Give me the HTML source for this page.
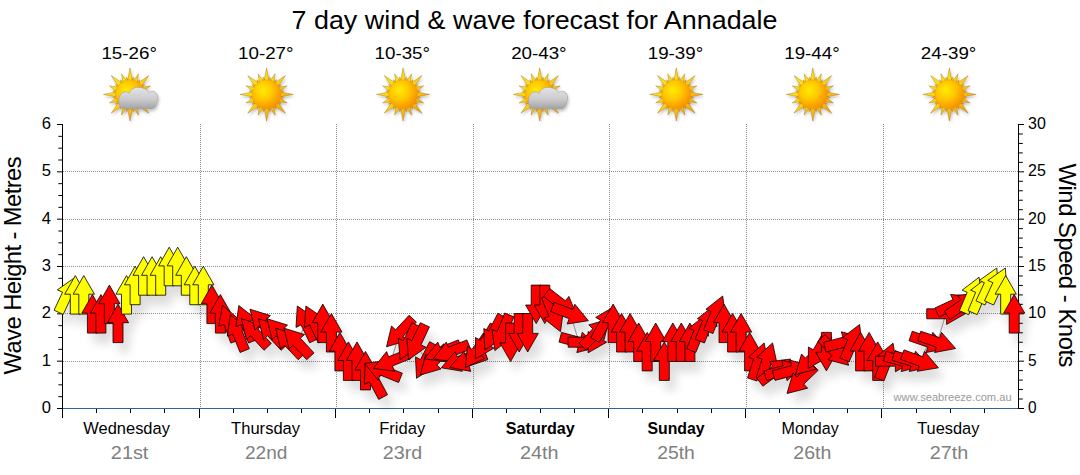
<!DOCTYPE html>
<html><head><meta charset="utf-8"><title>7 day wind &amp; wave forecast for Annadale</title>
<style>
html,body{margin:0;padding:0;background:#fff;}
body{width:1080px;height:475px;overflow:hidden;font-family:"Liberation Sans",sans-serif;}
svg{display:block;font-family:"Liberation Sans",sans-serif;}
</style></head><body>
<svg width="1080" height="475" viewBox="0 0 1080 475">
<defs>
<filter id="sh" x="-5%" y="-20%" width="110%" height="150%"><feGaussianBlur in="SourceAlpha" stdDeviation="5"/><feOffset dx="5.5" dy="9.5"/><feComponentTransfer><feFuncA type="linear" slope="0.135"/></feComponentTransfer><feMerge><feMergeNode/><feMergeNode in="SourceGraphic"/></feMerge></filter>
<filter id="ish" x="-30%" y="-30%" width="160%" height="160%"><feGaussianBlur in="SourceAlpha" stdDeviation="1.5"/><feOffset dx="1" dy="2"/><feComponentTransfer><feFuncA type="linear" slope="0.25"/></feComponentTransfer><feMerge><feMergeNode/><feMergeNode in="SourceGraphic"/></feMerge></filter>
<radialGradient id="sung" cx="0.38" cy="0.36" r="0.72"><stop offset="0" stop-color="#ffec00"/><stop offset="0.45" stop-color="#ffc600"/><stop offset="1" stop-color="#f58600"/></radialGradient>
<linearGradient id="rayg" gradientUnits="userSpaceOnUse" x1="-20" y1="-20" x2="20" y2="20"><stop offset="0" stop-color="#ffe818"/><stop offset="0.5" stop-color="#ffcc14"/><stop offset="1" stop-color="#f5a010"/></linearGradient>
<linearGradient id="cldg" x1="0" y1="0" x2="0" y2="1"><stop offset="0" stop-color="#e4e4e8"/><stop offset="0.55" stop-color="#cbcbce"/><stop offset="1" stop-color="#a2a2a2"/></linearGradient>
<g id="sun">
  <g fill="url(#rayg)" stroke="#8a6200" stroke-opacity="0.7" stroke-width="0.5"><path d="M-2.70,-12.50 L0.00,-26.60 L2.70,-12.50Z M0.87,-12.57 L3.43,-17.26 L4.01,-11.95Z M2.57,-12.47 L8.53,-20.60 L7.00,-10.63Z M5.61,-11.28 L9.78,-14.63 L8.27,-9.50Z M6.93,-10.75 L18.81,-18.81 L10.75,-6.93Z M9.50,-8.27 L14.63,-9.78 L11.28,-5.61Z M10.63,-7.00 L20.60,-8.53 L12.47,-2.57Z M11.95,-4.01 L17.26,-3.43 L12.57,-0.87Z M12.50,-2.70 L26.60,-0.00 L12.50,2.70Z M12.57,0.87 L17.26,3.43 L11.95,4.01Z M12.47,2.57 L20.60,8.53 L10.63,7.00Z M11.28,5.61 L14.63,9.78 L9.50,8.27Z M10.75,6.93 L18.81,18.81 L6.93,10.75Z M8.27,9.50 L9.78,14.63 L5.61,11.28Z M7.00,10.63 L8.53,20.60 L2.57,12.47Z M4.01,11.95 L3.43,17.26 L0.87,12.57Z M2.70,12.50 L0.00,26.60 L-2.70,12.50Z M-0.87,12.57 L-3.43,17.26 L-4.01,11.95Z M-2.57,12.47 L-8.53,20.60 L-7.00,10.63Z M-5.61,11.28 L-9.78,14.63 L-8.27,9.50Z M-6.93,10.75 L-18.81,18.81 L-10.75,6.93Z M-9.50,8.27 L-14.63,9.78 L-11.28,5.61Z M-10.63,7.00 L-20.60,8.53 L-12.47,2.57Z M-11.95,4.01 L-17.26,3.43 L-12.57,0.87Z M-12.50,2.70 L-26.60,0.00 L-12.50,-2.70Z M-12.57,-0.87 L-17.26,-3.43 L-11.95,-4.01Z M-12.47,-2.57 L-20.60,-8.53 L-10.63,-7.00Z M-11.28,-5.61 L-14.63,-9.78 L-9.50,-8.27Z M-10.75,-6.93 L-18.81,-18.81 L-6.93,-10.75Z M-8.27,-9.50 L-9.78,-14.63 L-5.61,-11.28Z M-7.00,-10.63 L-8.53,-20.60 L-2.57,-12.47Z M-4.01,-11.95 L-3.43,-17.26 L-0.87,-12.57Z"/></g>
  <circle r="14.6" fill="url(#sung)" stroke="#eea010" stroke-width="0.5"/>
</g>
<g id="cloud">
  <path d="M-4.8,14.6 C-8.5,14.6 -11.3,12 -11.2,7.6 C-11.3,5 -11,3 -10,1.5 C-9,-2.2 -3.5,-4.2 -0.8,-1 C1,-5.5 4.5,-7.1 7.8,-7 C12.5,-7.1 16.5,-5.6 18.9,-1.9 C21,-4 25.5,-3.6 26.8,-0.5 C28.3,1.5 28.4,5.5 26.9,8.5 C26.6,11.5 24.5,14.1 21.5,14.6 Z" fill="url(#cldg)" stroke="#a0a0a0" stroke-width="0.6"/>
</g>
</defs>
<rect width="1080" height="475" fill="#fff"/>
<text x="534.5" y="29.4" font-size="26.5" text-anchor="middle" textLength="486" lengthAdjust="spacingAndGlyphs" fill="#000">7 day wind &amp; wave forecast for Annadale</text>
<text x="129.2" y="59.0" font-size="16.5" text-anchor="middle" textLength="55.5" lengthAdjust="spacingAndGlyphs" fill="#000">15-26°</text>
<g filter="url(#ish)" transform="translate(130.0,94.4)"><use href="#sun"/><use href="#cloud"/></g>
<text x="265.8" y="59.0" font-size="16.5" text-anchor="middle" textLength="55.5" lengthAdjust="spacingAndGlyphs" fill="#000">10-27°</text>
<g filter="url(#ish)" transform="translate(266.6,94.4)"><use href="#sun"/></g>
<text x="402.3" y="59.0" font-size="16.5" text-anchor="middle" textLength="55.5" lengthAdjust="spacingAndGlyphs" fill="#000">10-35°</text>
<g filter="url(#ish)" transform="translate(403.1,94.4)"><use href="#sun"/></g>
<text x="538.9" y="59.0" font-size="16.5" text-anchor="middle" textLength="55.5" lengthAdjust="spacingAndGlyphs" fill="#000">20-43°</text>
<g filter="url(#ish)" transform="translate(539.7,94.4)"><use href="#sun"/><use href="#cloud"/></g>
<text x="675.5" y="59.0" font-size="16.5" text-anchor="middle" textLength="55.5" lengthAdjust="spacingAndGlyphs" fill="#000">19-39°</text>
<g filter="url(#ish)" transform="translate(676.3,94.4)"><use href="#sun"/></g>
<text x="812.0" y="59.0" font-size="16.5" text-anchor="middle" textLength="55.5" lengthAdjust="spacingAndGlyphs" fill="#000">19-44°</text>
<g filter="url(#ish)" transform="translate(812.8,94.4)"><use href="#sun"/></g>
<text x="948.6" y="59.0" font-size="16.5" text-anchor="middle" textLength="55.5" lengthAdjust="spacingAndGlyphs" fill="#000">24-39°</text>
<g filter="url(#ish)" transform="translate(949.4,94.4)"><use href="#sun"/></g>
<g stroke="#8c8c8c" stroke-width="1" stroke-dasharray="1,1" shape-rendering="crispEdges"><line x1="63" y1="361.5" x2="1018" y2="361.5"/><line x1="63" y1="313.5" x2="1018" y2="313.5"/><line x1="63" y1="266.5" x2="1018" y2="266.5"/><line x1="63" y1="219.5" x2="1018" y2="219.5"/><line x1="63" y1="171.5" x2="1018" y2="171.5"/><line x1="200.5" y1="124" x2="200.5" y2="408"/><line x1="336.5" y1="124" x2="336.5" y2="408"/><line x1="473.5" y1="124" x2="473.5" y2="408"/><line x1="609.5" y1="124" x2="609.5" y2="408"/><line x1="746.5" y1="124" x2="746.5" y2="408"/><line x1="883.5" y1="124" x2="883.5" y2="408"/></g>
<g stroke="#000" stroke-width="1" shape-rendering="crispEdges"><line x1="62.5" y1="124" x2="62.5" y2="418"/><line x1="1018.5" y1="124" x2="1018.5" y2="409"/></g>
<g stroke="#000" stroke-width="1"><line x1="57.00" y1="408.50" x2="62" y2="408.50"/><line x1="58.40" y1="396.67" x2="62" y2="396.67"/><line x1="58.40" y1="384.83" x2="62" y2="384.83"/><line x1="58.40" y1="373.00" x2="62" y2="373.00"/><line x1="57.00" y1="361.17" x2="62" y2="361.17"/><line x1="58.40" y1="349.33" x2="62" y2="349.33"/><line x1="58.40" y1="337.50" x2="62" y2="337.50"/><line x1="58.40" y1="325.67" x2="62" y2="325.67"/><line x1="57.00" y1="313.83" x2="62" y2="313.83"/><line x1="58.40" y1="302.00" x2="62" y2="302.00"/><line x1="58.40" y1="290.17" x2="62" y2="290.17"/><line x1="58.40" y1="278.33" x2="62" y2="278.33"/><line x1="57.00" y1="266.50" x2="62" y2="266.50"/><line x1="58.40" y1="254.67" x2="62" y2="254.67"/><line x1="58.40" y1="242.83" x2="62" y2="242.83"/><line x1="58.40" y1="231.00" x2="62" y2="231.00"/><line x1="57.00" y1="219.17" x2="62" y2="219.17"/><line x1="58.40" y1="207.33" x2="62" y2="207.33"/><line x1="58.40" y1="195.50" x2="62" y2="195.50"/><line x1="58.40" y1="183.67" x2="62" y2="183.67"/><line x1="57.00" y1="171.83" x2="62" y2="171.83"/><line x1="58.40" y1="160.00" x2="62" y2="160.00"/><line x1="58.40" y1="148.17" x2="62" y2="148.17"/><line x1="58.40" y1="136.33" x2="62" y2="136.33"/><line x1="57.00" y1="124.50" x2="62" y2="124.50"/><line x1="1019" y1="408.50" x2="1024.00" y2="408.50"/><line x1="1019" y1="399.03" x2="1022.80" y2="399.03"/><line x1="1019" y1="389.57" x2="1022.80" y2="389.57"/><line x1="1019" y1="380.10" x2="1022.80" y2="380.10"/><line x1="1019" y1="370.63" x2="1022.80" y2="370.63"/><line x1="1019" y1="361.17" x2="1024.00" y2="361.17"/><line x1="1019" y1="351.70" x2="1022.80" y2="351.70"/><line x1="1019" y1="342.23" x2="1022.80" y2="342.23"/><line x1="1019" y1="332.77" x2="1022.80" y2="332.77"/><line x1="1019" y1="323.30" x2="1022.80" y2="323.30"/><line x1="1019" y1="313.83" x2="1024.00" y2="313.83"/><line x1="1019" y1="304.37" x2="1022.80" y2="304.37"/><line x1="1019" y1="294.90" x2="1022.80" y2="294.90"/><line x1="1019" y1="285.43" x2="1022.80" y2="285.43"/><line x1="1019" y1="275.97" x2="1022.80" y2="275.97"/><line x1="1019" y1="266.50" x2="1024.00" y2="266.50"/><line x1="1019" y1="257.03" x2="1022.80" y2="257.03"/><line x1="1019" y1="247.57" x2="1022.80" y2="247.57"/><line x1="1019" y1="238.10" x2="1022.80" y2="238.10"/><line x1="1019" y1="228.63" x2="1022.80" y2="228.63"/><line x1="1019" y1="219.17" x2="1024.00" y2="219.17"/><line x1="1019" y1="209.70" x2="1022.80" y2="209.70"/><line x1="1019" y1="200.23" x2="1022.80" y2="200.23"/><line x1="1019" y1="190.77" x2="1022.80" y2="190.77"/><line x1="1019" y1="181.30" x2="1022.80" y2="181.30"/><line x1="1019" y1="171.83" x2="1024.00" y2="171.83"/><line x1="1019" y1="162.37" x2="1022.80" y2="162.37"/><line x1="1019" y1="152.90" x2="1022.80" y2="152.90"/><line x1="1019" y1="143.43" x2="1022.80" y2="143.43"/><line x1="1019" y1="133.97" x2="1022.80" y2="133.97"/><line x1="1019" y1="124.50" x2="1024.00" y2="124.50"/></g>
<g stroke="#000" stroke-width="1" shape-rendering="crispEdges"><line x1="96.5" y1="409" x2="96.5" y2="413"/><line x1="130.5" y1="409" x2="130.5" y2="413"/><line x1="164.5" y1="409" x2="164.5" y2="413"/><line x1="199.5" y1="409" x2="199.5" y2="418"/><line x1="233.5" y1="409" x2="233.5" y2="413"/><line x1="267.5" y1="409" x2="267.5" y2="413"/><line x1="301.5" y1="409" x2="301.5" y2="413"/><line x1="335.5" y1="409" x2="335.5" y2="418"/><line x1="369.5" y1="409" x2="369.5" y2="413"/><line x1="403.5" y1="409" x2="403.5" y2="413"/><line x1="438.5" y1="409" x2="438.5" y2="413"/><line x1="472.5" y1="409" x2="472.5" y2="418"/><line x1="506.5" y1="409" x2="506.5" y2="413"/><line x1="540.5" y1="409" x2="540.5" y2="413"/><line x1="574.5" y1="409" x2="574.5" y2="413"/><line x1="608.5" y1="409" x2="608.5" y2="418"/><line x1="642.5" y1="409" x2="642.5" y2="413"/><line x1="677.5" y1="409" x2="677.5" y2="413"/><line x1="711.5" y1="409" x2="711.5" y2="413"/><line x1="745.5" y1="409" x2="745.5" y2="418"/><line x1="779.5" y1="409" x2="779.5" y2="413"/><line x1="813.5" y1="409" x2="813.5" y2="413"/><line x1="847.5" y1="409" x2="847.5" y2="413"/><line x1="881.5" y1="409" x2="881.5" y2="418"/><line x1="916.5" y1="409" x2="916.5" y2="413"/><line x1="950.5" y1="409" x2="950.5" y2="413"/><line x1="984.5" y1="409" x2="984.5" y2="413"/></g>
<line x1="63" y1="408.5" x2="1018" y2="408.5" stroke="#2f6496" stroke-width="1" shape-rendering="crispEdges"/>
<g filter="url(#sh)"><polyline points="66.8,294.9 75.3,294.9 83.8,294.9 92.4,313.8 100.9,313.8 109.4,304.4 118.0,323.3 126.5,294.9 135.1,285.4 143.6,276.0 152.1,276.0 160.7,276.0 169.2,266.5 177.7,266.5 186.3,276.0 194.8,285.4 203.3,285.4 211.9,304.4 220.4,313.8 228.9,323.3 237.5,332.8 246.0,323.3 254.6,332.8 263.1,323.3 271.6,332.8 280.2,332.8 288.7,342.2 297.2,342.2 305.8,323.3 314.3,323.3 322.8,323.3 331.4,332.8 339.9,351.7 348.4,361.2 357.0,361.2 365.5,370.6 374.1,380.1 382.6,370.6 391.1,361.2 399.7,332.8 408.2,342.2 416.7,342.2 425.3,361.2 433.8,361.2 442.3,351.7 450.9,351.7 459.4,361.2 467.9,361.2 476.5,351.7 485.0,342.2 493.6,332.8 502.1,332.8 510.6,342.2 519.2,332.8 527.7,332.8 536.2,304.4 544.8,304.4 553.3,313.8 561.8,304.4 570.4,313.8 578.9,342.2 587.4,342.2 596.0,332.8 604.5,323.3 613.1,323.3 621.6,332.8 630.1,332.8 638.7,342.2 647.2,351.7 655.7,342.2 664.3,361.2 672.8,342.2 681.3,342.2 689.9,342.2 698.4,332.8 706.9,323.3 715.5,313.8 724.0,323.3 732.6,332.8 741.1,332.8 749.6,351.7 758.2,361.2 766.7,361.2 775.2,370.6 783.8,370.6 792.3,370.6 800.8,380.1 809.4,361.2 817.9,351.7 826.4,351.7 835.0,351.7 843.5,342.2 852.1,342.2 860.6,351.7 869.1,351.7 877.7,361.2 886.2,361.2 894.7,361.2 903.3,361.2 911.8,361.2 920.3,361.2 928.9,342.2 937.4,342.2 945.9,313.8 954.5,304.4 963.0,304.4 971.6,294.9 980.1,294.9 988.6,285.4 997.2,285.4 1005.7,294.9 1014.2,313.8" fill="none" stroke="#9a9a9a" stroke-width="1.2"/><g stroke="#000" stroke-width="0.8" stroke-linejoin="miter"><polygon points="74.9,277.5 76.6,298.8 71.6,296.4 63.2,314.5 54.1,310.2 62.5,292.2 57.4,289.8" fill="#ffff00"/><polygon points="75.3,275.6 85.9,294.2 80.3,294.2 80.3,314.1 70.3,314.1 70.3,294.2 64.7,294.2" fill="#ffff00"/><polygon points="83.8,275.6 94.4,294.2 88.8,294.2 88.8,314.1 78.8,314.1 78.8,294.2 73.2,294.2" fill="#ffff00"/><polygon points="92.4,294.6 103.0,313.2 97.4,313.2 97.4,333.1 87.4,333.1 87.4,313.2 81.8,313.2" fill="#ff0000"/><polygon points="100.9,294.6 111.5,313.2 105.9,313.2 105.9,333.1 95.9,333.1 95.9,313.2 90.3,313.2" fill="#ff0000"/><polygon points="109.4,285.1 120.0,303.7 114.4,303.7 114.4,323.6 104.4,323.6 104.4,303.7 98.8,303.7" fill="#ff0000"/><polygon points="118.0,304.1 128.6,322.7 123.0,322.7 123.0,342.6 113.0,342.6 113.0,322.7 107.4,322.7" fill="#ff0000"/><polygon points="126.5,275.6 137.1,294.2 131.5,294.2 131.5,314.1 121.5,314.1 121.5,294.2 115.9,294.2" fill="#ffff00"/><polygon points="135.1,266.2 145.7,284.8 140.1,284.8 140.1,304.7 130.1,304.7 130.1,284.8 124.5,284.8" fill="#ffff00"/><polygon points="143.6,256.7 154.2,275.3 148.6,275.3 148.6,295.2 138.6,295.2 138.6,275.3 133.0,275.3" fill="#ffff00"/><polygon points="152.1,256.7 162.7,275.3 157.1,275.3 157.1,295.2 147.1,295.2 147.1,275.3 141.5,275.3" fill="#ffff00"/><polygon points="160.7,256.7 171.3,275.3 165.7,275.3 165.7,295.2 155.7,295.2 155.7,275.3 150.1,275.3" fill="#ffff00"/><polygon points="169.2,247.2 179.8,265.9 174.2,265.9 174.2,285.8 164.2,285.8 164.2,265.9 158.6,265.9" fill="#ffff00"/><polygon points="177.7,247.2 188.3,265.9 182.7,265.9 182.7,285.8 172.7,285.8 172.7,265.9 167.1,265.9" fill="#ffff00"/><polygon points="186.3,256.7 196.9,275.3 191.3,275.3 191.3,295.2 181.3,295.2 181.3,275.3 175.7,275.3" fill="#ffff00"/><polygon points="194.8,266.2 205.4,284.8 199.8,284.8 199.8,304.7 189.8,304.7 189.8,284.8 184.2,284.8" fill="#ffff00"/><polygon points="203.3,266.2 213.9,284.8 208.3,284.8 208.3,304.7 198.3,304.7 198.3,284.8 192.7,284.8" fill="#ffff00"/><polygon points="211.9,285.1 222.5,303.7 216.9,303.7 216.9,323.6 206.9,323.6 206.9,303.7 201.3,303.7" fill="#ff0000"/><polygon points="220.4,294.6 231.0,313.2 225.4,313.2 225.4,333.1 215.4,333.1 215.4,313.2 209.8,313.2" fill="#ff0000"/><polygon points="222.4,305.2 238.7,319.1 233.4,321.0 240.2,339.7 230.8,343.1 224.0,324.4 218.8,326.3" fill="#ff0000"/><polygon points="230.3,314.9 247.1,328.2 241.9,330.3 249.3,348.7 240.1,352.5 232.6,334.0 227.4,336.1" fill="#ff0000"/><polygon points="238.8,305.5 255.6,318.7 250.4,320.8 257.9,339.3 248.6,343.0 241.1,324.6 235.9,326.7" fill="#ff0000"/><polygon points="241.4,318.7 261.9,325.1 257.8,328.9 271.3,343.4 264.0,350.3 250.5,335.7 246.4,339.5" fill="#ff0000"/><polygon points="250.0,309.2 270.4,315.6 266.3,319.4 279.9,334.0 272.6,340.8 259.0,326.2 254.9,330.1" fill="#ff0000"/><polygon points="258.5,318.7 278.9,325.1 274.8,328.9 288.4,343.4 281.1,350.3 267.5,335.7 263.4,339.5" fill="#ff0000"/><polygon points="267.0,318.7 287.5,325.1 283.4,328.9 296.9,343.4 289.6,350.3 276.1,335.7 272.0,339.5" fill="#ff0000"/><polygon points="275.6,328.2 296.0,334.5 291.9,338.3 305.5,352.9 298.2,359.7 284.6,345.2 280.5,349.0" fill="#ff0000"/><polygon points="284.1,328.2 304.5,334.5 300.4,338.3 314.0,352.9 306.7,359.7 293.1,345.2 289.0,349.0" fill="#ff0000"/><polygon points="297.3,306.0 315.0,318.1 310.0,320.5 318.7,338.4 309.7,342.8 301.0,324.9 296.0,327.4" fill="#ff0000"/><polygon points="305.9,306.0 323.5,318.1 318.5,320.5 327.2,338.4 318.2,342.8 309.5,324.9 304.5,327.4" fill="#ff0000"/><polygon points="322.8,304.1 333.4,322.7 327.8,322.7 327.8,342.6 317.8,342.6 317.8,322.7 312.2,322.7" fill="#ff0000"/><polygon points="331.4,313.5 342.0,332.1 336.4,332.1 336.4,352.0 326.4,352.0 326.4,332.1 320.8,332.1" fill="#ff0000"/><polygon points="339.9,332.4 350.5,351.1 344.9,351.1 344.9,370.9 334.9,370.9 334.9,351.1 329.3,351.1" fill="#ff0000"/><polygon points="348.4,341.9 359.0,360.5 353.4,360.5 353.4,380.4 343.4,380.4 343.4,360.5 337.8,360.5" fill="#ff0000"/><polygon points="357.0,341.9 367.6,360.5 362.0,360.5 362.0,380.4 352.0,380.4 352.0,360.5 346.4,360.5" fill="#ff0000"/><polygon points="365.5,351.4 376.1,370.0 370.5,370.0 370.5,389.9 360.5,389.9 360.5,370.0 354.9,370.0" fill="#ff0000"/><polygon points="365.0,363.1 383.1,374.5 378.2,377.2 387.5,394.7 378.7,399.4 369.3,381.9 364.4,384.5" fill="#ff0000"/><polygon points="364.7,363.4 386.0,360.6 383.9,365.8 402.3,373.2 398.6,382.5 380.1,375.0 378.0,380.2" fill="#ff0000"/><polygon points="373.3,368.4 386.6,351.6 388.6,356.8 407.1,349.3 410.8,358.6 392.4,366.0 394.5,371.2" fill="#ff0000"/><polygon points="386.5,346.8 391.5,326.0 395.6,329.8 409.1,315.3 416.4,322.1 402.9,336.7 407.0,340.5" fill="#ff0000"/><polygon points="400.1,359.7 398.3,338.3 403.4,340.7 411.8,322.7 420.9,326.9 412.5,344.9 417.5,347.3" fill="#ff0000"/><polygon points="408.6,359.7 406.9,338.3 411.9,340.7 420.3,322.7 429.4,326.9 421.0,344.9 426.1,347.3" fill="#ff0000"/><polygon points="416.5,378.3 415.5,356.9 420.5,359.5 429.6,341.7 438.5,346.3 429.4,364.0 434.4,366.6" fill="#ff0000"/><polygon points="420.4,375.0 425.7,354.3 429.8,358.2 443.6,343.8 450.8,350.8 436.9,365.1 441.0,369.0" fill="#ff0000"/><polygon points="424.5,358.9 437.8,342.1 439.9,347.3 458.3,339.9 462.1,349.1 443.6,356.6 445.7,361.8" fill="#ff0000"/><polygon points="433.0,358.9 446.3,342.1 448.4,347.3 466.9,339.9 470.6,349.1 452.1,356.6 454.2,361.8" fill="#ff0000"/><polygon points="441.3,367.8 455.2,351.4 457.1,356.7 475.8,349.9 479.2,359.3 460.5,366.1 462.4,371.3" fill="#ff0000"/><polygon points="449.7,367.4 463.9,351.4 465.7,356.7 484.5,350.2 487.8,359.6 469.0,366.1 470.8,371.4" fill="#ff0000"/><polygon points="465.4,367.5 467.4,346.2 472.0,349.4 483.4,333.1 491.6,338.8 480.2,355.1 484.8,358.3" fill="#ff0000"/><polygon points="475.4,358.9 475.5,337.5 480.4,340.3 490.3,323.1 499.0,328.1 489.0,345.3 493.9,348.1" fill="#ff0000"/><polygon points="484.8,349.9 483.8,328.5 488.8,331.1 497.8,313.3 506.7,317.9 497.7,335.6 502.7,338.2" fill="#ff0000"/><polygon points="494.9,350.6 492.0,329.4 497.2,331.5 504.7,313.0 513.9,316.8 506.5,335.2 511.7,337.3" fill="#ff0000"/><polygon points="510.6,361.5 500.0,342.9 505.6,342.9 505.6,323.0 515.6,323.0 515.6,342.9 521.2,342.9" fill="#ff0000"/><polygon points="519.2,352.0 508.6,333.4 514.2,333.4 514.2,313.5 524.2,313.5 524.2,333.4 529.8,333.4" fill="#ff0000"/><polygon points="527.7,352.0 517.1,333.4 522.7,333.4 522.7,313.5 532.7,313.5 532.7,333.4 538.3,333.4" fill="#ff0000"/><polygon points="536.2,323.6 525.6,305.0 531.2,305.0 531.2,285.1 541.2,285.1 541.2,305.0 546.8,305.0" fill="#ff0000"/><polygon points="544.8,323.6 534.2,305.0 539.8,305.0 539.8,285.1 549.8,285.1 549.8,305.0 555.4,305.0" fill="#ff0000"/><polygon points="560.5,331.7 543.7,318.4 548.9,316.3 541.5,297.9 550.7,294.1 558.2,312.6 563.4,310.5" fill="#ff0000"/><polygon points="577.0,316.2 555.8,313.1 559.3,308.7 543.6,296.5 549.7,288.6 565.4,300.8 568.9,296.4" fill="#ff0000"/><polygon points="588.3,320.7 567.2,324.0 569.2,318.7 550.6,311.6 554.2,302.3 572.8,309.4 574.8,304.2" fill="#ff0000"/><polygon points="597.5,347.2 576.8,352.6 578.2,347.2 559.0,342.1 561.6,332.4 580.8,337.6 582.3,332.2" fill="#ff0000"/><polygon points="606.7,342.2 588.1,352.8 588.1,347.2 568.2,347.2 568.2,337.2 588.1,337.2 588.1,331.6" fill="#ff0000"/><polygon points="609.4,318.9 604.1,339.7 600.0,335.8 586.2,350.1 579.0,343.1 592.8,328.8 588.8,324.9" fill="#ff0000"/><polygon points="614.1,306.6 614.0,328.0 609.2,325.2 599.2,342.5 590.6,337.5 600.5,320.2 595.7,317.4" fill="#ff0000"/><polygon points="613.1,304.1 623.7,322.7 618.1,322.7 618.1,342.6 608.1,342.6 608.1,322.7 602.5,322.7" fill="#ff0000"/><polygon points="621.6,313.5 632.2,332.1 626.6,332.1 626.6,352.0 616.6,352.0 616.6,332.1 611.0,332.1" fill="#ff0000"/><polygon points="630.1,313.5 640.7,332.1 635.1,332.1 635.1,352.0 625.1,352.0 625.1,332.1 619.5,332.1" fill="#ff0000"/><polygon points="638.7,323.0 649.3,341.6 643.7,341.6 643.7,361.5 633.7,361.5 633.7,341.6 628.1,341.6" fill="#ff0000"/><polygon points="647.2,332.4 657.8,351.1 652.2,351.1 652.2,370.9 642.2,370.9 642.2,351.1 636.6,351.1" fill="#ff0000"/><polygon points="655.7,323.0 666.3,341.6 660.7,341.6 660.7,361.5 650.7,361.5 650.7,341.6 645.1,341.6" fill="#ff0000"/><polygon points="664.3,341.9 674.9,360.5 669.3,360.5 669.3,380.4 659.3,380.4 659.3,360.5 653.7,360.5" fill="#ff0000"/><polygon points="672.8,323.0 683.4,341.6 677.8,341.6 677.8,361.5 667.8,361.5 667.8,341.6 662.2,341.6" fill="#ff0000"/><polygon points="681.3,323.0 691.9,341.6 686.3,341.6 686.3,361.5 676.3,361.5 676.3,341.6 670.7,341.6" fill="#ff0000"/><polygon points="689.9,323.0 700.5,341.6 694.9,341.6 694.9,361.5 684.9,361.5 684.9,341.6 679.3,341.6" fill="#ff0000"/><polygon points="705.6,314.9 708.5,336.1 703.3,334.0 695.8,352.5 686.6,348.7 694.0,330.3 688.8,328.2" fill="#ff0000"/><polygon points="714.2,305.5 717.0,326.7 711.8,324.6 704.4,343.0 695.1,339.3 702.6,320.8 697.4,318.7" fill="#ff0000"/><polygon points="722.7,296.0 725.6,317.2 720.4,315.1 712.9,333.6 703.6,329.8 711.1,311.4 705.9,309.3" fill="#ff0000"/><polygon points="724.0,304.1 734.6,322.7 729.0,322.7 729.0,342.6 719.0,342.6 719.0,322.7 713.4,322.7" fill="#ff0000"/><polygon points="732.6,313.5 743.2,332.1 737.6,332.1 737.6,352.0 727.6,352.0 727.6,332.1 722.0,332.1" fill="#ff0000"/><polygon points="741.1,313.5 751.7,332.1 746.1,332.1 746.1,352.0 736.1,352.0 736.1,332.1 730.5,332.1" fill="#ff0000"/><polygon points="749.6,332.4 760.2,351.1 754.6,351.1 754.6,370.9 744.6,370.9 744.6,351.1 739.0,351.1" fill="#ff0000"/><polygon points="764.1,342.9 768.4,363.8 763.1,362.1 757.0,381.0 747.5,377.9 753.6,359.0 748.3,357.3" fill="#ff0000"/><polygon points="772.6,342.9 777.0,363.8 771.7,362.1 765.5,381.0 756.0,377.9 762.1,359.0 756.8,357.3" fill="#ff0000"/><polygon points="790.6,359.0 782.1,378.7 778.8,374.2 762.9,386.2 756.8,378.2 772.7,366.2 769.4,361.8" fill="#ff0000"/><polygon points="802.4,365.7 787.1,380.7 785.7,375.3 766.5,380.4 763.9,370.8 783.1,365.6 781.7,360.2" fill="#ff0000"/><polygon points="810.9,365.7 795.7,380.7 794.2,375.3 775.0,380.4 772.4,370.8 791.6,365.6 790.2,360.2" fill="#ff0000"/><polygon points="787.0,393.5 793.0,372.9 796.9,377.0 811.2,363.1 818.2,370.3 803.8,384.1 807.7,388.2" fill="#ff0000"/><polygon points="795.5,374.5 801.5,354.0 805.4,358.0 819.7,344.2 826.7,351.4 812.4,365.2 816.3,369.2" fill="#ff0000"/><polygon points="808.3,368.4 808.4,347.0 813.3,349.8 823.2,332.5 831.9,337.5 821.9,354.8 826.8,357.6" fill="#ff0000"/><polygon points="826.4,370.9 815.8,352.3 821.4,352.3 821.4,332.4 831.4,332.4 831.4,352.3 837.0,352.3" fill="#ff0000"/><polygon points="848.6,365.3 827.9,359.7 831.9,355.7 817.8,341.6 824.9,334.6 839.0,348.6 842.9,344.7" fill="#ff0000"/><polygon points="862.1,337.3 846.9,352.3 845.4,346.9 826.2,352.0 823.6,342.4 842.9,337.2 841.4,331.8" fill="#ff0000"/><polygon points="859.6,324.5 862.1,345.8 856.9,343.6 849.1,361.9 839.9,358.0 847.7,339.7 842.6,337.5" fill="#ff0000"/><polygon points="860.6,332.4 871.2,351.1 865.6,351.1 865.6,370.9 855.6,370.9 855.6,351.1 850.0,351.1" fill="#ff0000"/><polygon points="869.1,332.4 879.7,351.1 874.1,351.1 874.1,370.9 864.1,370.9 864.1,351.1 858.5,351.1" fill="#ff0000"/><polygon points="877.7,341.9 888.3,360.5 882.7,360.5 882.7,380.4 872.7,380.4 872.7,360.5 867.1,360.5" fill="#ff0000"/><polygon points="893.1,343.2 896.3,364.4 891.1,362.4 884.0,380.9 874.6,377.3 881.8,358.8 876.5,356.8" fill="#ff0000"/><polygon points="914.0,361.2 895.4,371.8 895.4,366.2 875.5,366.2 875.5,356.2 895.4,356.2 895.4,350.6" fill="#ff0000"/><polygon points="921.9,366.1 901.2,371.6 902.6,366.2 883.4,361.0 886.0,351.4 905.2,356.5 906.6,351.1" fill="#ff0000"/><polygon points="930.2,366.8 909.3,371.5 911.0,366.1 891.9,360.3 894.9,350.8 913.9,356.6 915.5,351.2" fill="#ff0000"/><polygon points="938.4,367.8 917.3,371.3 919.2,366.1 900.5,359.3 904.0,349.9 922.7,356.7 924.6,351.4" fill="#ff0000"/><polygon points="947.1,348.5 926.0,352.5 927.9,347.2 909.0,340.7 912.3,331.2 931.1,337.7 932.9,332.4" fill="#ff0000"/><polygon points="955.6,348.5 934.6,352.5 936.4,347.2 917.6,340.7 920.8,331.2 939.7,337.7 941.5,332.4" fill="#ff0000"/><polygon points="965.2,313.8 946.6,324.4 946.6,318.8 926.7,318.8 926.7,308.8 946.6,308.8 946.6,303.2" fill="#ff0000"/><polygon points="971.9,296.2 959.6,313.7 957.2,308.6 939.1,317.0 934.9,308.0 953.0,299.6 950.6,294.5" fill="#ff0000"/><polygon points="978.8,293.3 969.6,312.7 966.4,308.1 950.1,319.5 944.4,311.3 960.7,299.9 957.5,295.3" fill="#ff0000"/><polygon points="979.1,277.2 981.6,298.4 976.4,296.3 968.6,314.6 959.4,310.7 967.2,292.3 962.1,290.2" fill="#ffff00"/><polygon points="987.6,277.2 990.1,298.4 984.9,296.3 977.2,314.6 968.0,310.7 975.7,292.3 970.6,290.2" fill="#ffff00"/><polygon points="996.8,268.0 998.5,289.3 993.4,287.0 985.0,305.0 976.0,300.8 984.4,282.7 979.3,280.4" fill="#ffff00"/><polygon points="1005.3,268.0 1007.0,289.3 1002.0,287.0 993.6,305.0 984.5,300.8 992.9,282.7 987.8,280.4" fill="#ffff00"/><polygon points="1005.7,275.6 1016.3,294.2 1010.7,294.2 1010.7,314.1 1000.7,314.1 1000.7,294.2 995.1,294.2" fill="#ffff00"/><polygon points="1014.2,294.6 1024.8,313.2 1019.2,313.2 1019.2,333.1 1009.2,333.1 1009.2,313.2 1003.6,313.2" fill="#ff0000"/></g></g>
<text x="51" y="413.1" font-size="16.6" text-anchor="end" fill="#000">0</text>
<text x="51" y="365.8" font-size="16.6" text-anchor="end" fill="#000">1</text>
<text x="51" y="318.4" font-size="16.6" text-anchor="end" fill="#000">2</text>
<text x="51" y="271.1" font-size="16.6" text-anchor="end" fill="#000">3</text>
<text x="51" y="223.8" font-size="16.6" text-anchor="end" fill="#000">4</text>
<text x="51" y="176.4" font-size="16.6" text-anchor="end" fill="#000">5</text>
<text x="51" y="129.1" font-size="16.6" text-anchor="end" fill="#000">6</text>
<text x="1028" y="413.1" font-size="16.6" fill="#000" textLength="8.6" lengthAdjust="spacingAndGlyphs">0</text>
<text x="1028" y="365.8" font-size="16.6" fill="#000" textLength="8.6" lengthAdjust="spacingAndGlyphs">5</text>
<text x="1028" y="318.4" font-size="16.6" fill="#000" textLength="17.8" lengthAdjust="spacingAndGlyphs">10</text>
<text x="1028" y="271.1" font-size="16.6" fill="#000" textLength="17.8" lengthAdjust="spacingAndGlyphs">15</text>
<text x="1028" y="223.8" font-size="16.6" fill="#000" textLength="17.8" lengthAdjust="spacingAndGlyphs">20</text>
<text x="1028" y="176.4" font-size="16.6" fill="#000" textLength="17.8" lengthAdjust="spacingAndGlyphs">25</text>
<text x="1028" y="129.1" font-size="16.6" fill="#000" textLength="17.8" lengthAdjust="spacingAndGlyphs">30</text>
<text transform="translate(20.6,265.4) rotate(-90)" font-size="23.8" text-anchor="middle" textLength="218" lengthAdjust="spacing" fill="#000">Wave Height - Metres</text>
<text transform="translate(1059,265.5) rotate(90)" font-size="23.8" text-anchor="middle" textLength="204" lengthAdjust="spacing" fill="#000">Wind Speed - Knots</text>
<text x="126.6" y="434.4" font-size="16.3" text-anchor="middle" textLength="86.6" lengthAdjust="spacingAndGlyphs" fill="#000">Wednesday</text>
<text x="129.6" y="458.7" font-size="17.5" text-anchor="middle" textLength="37.5" lengthAdjust="spacingAndGlyphs" fill="#808080">21st</text>
<text x="265.6" y="434.4" font-size="16.3" text-anchor="middle" textLength="69.0" lengthAdjust="spacingAndGlyphs" fill="#000">Thursday</text>
<text x="266.2" y="458.7" font-size="17.5" text-anchor="middle" textLength="42.4" lengthAdjust="spacingAndGlyphs" fill="#808080">22nd</text>
<text x="402.2" y="434.4" font-size="16.3" text-anchor="middle" textLength="46.0" lengthAdjust="spacingAndGlyphs" fill="#000">Friday</text>
<text x="402.5" y="458.7" font-size="17.5" text-anchor="middle" textLength="39.4" lengthAdjust="spacingAndGlyphs" fill="#808080">23rd</text>
<text x="540.3" y="434.4" font-size="16.3" text-anchor="middle" textLength="69.0" lengthAdjust="spacingAndGlyphs" fill="#000" font-weight="bold">Saturday</text>
<text x="539.3" y="458.7" font-size="17.5" text-anchor="middle" textLength="38.5" lengthAdjust="spacingAndGlyphs" fill="#808080">24th</text>
<text x="676.0" y="434.4" font-size="16.3" text-anchor="middle" textLength="57.2" lengthAdjust="spacingAndGlyphs" fill="#000" font-weight="bold">Sunday</text>
<text x="676.0" y="458.7" font-size="17.5" text-anchor="middle" textLength="37.6" lengthAdjust="spacingAndGlyphs" fill="#808080">25th</text>
<text x="810.1" y="434.4" font-size="16.3" text-anchor="middle" textLength="57.2" lengthAdjust="spacingAndGlyphs" fill="#000">Monday</text>
<text x="812.3" y="458.7" font-size="17.5" text-anchor="middle" textLength="38.0" lengthAdjust="spacingAndGlyphs" fill="#808080">26th</text>
<text x="948.3" y="434.4" font-size="16.3" text-anchor="middle" textLength="62.2" lengthAdjust="spacingAndGlyphs" fill="#000">Tuesday</text>
<text x="948.9" y="458.7" font-size="17.5" text-anchor="middle" textLength="38.5" lengthAdjust="spacingAndGlyphs" fill="#808080">27th</text>
<text x="1011.6" y="401.2" font-size="10.5" text-anchor="end" textLength="118" lengthAdjust="spacingAndGlyphs" fill="#9a9a9a">www.seabreeze.com.au</text>
</svg>
</body></html>
